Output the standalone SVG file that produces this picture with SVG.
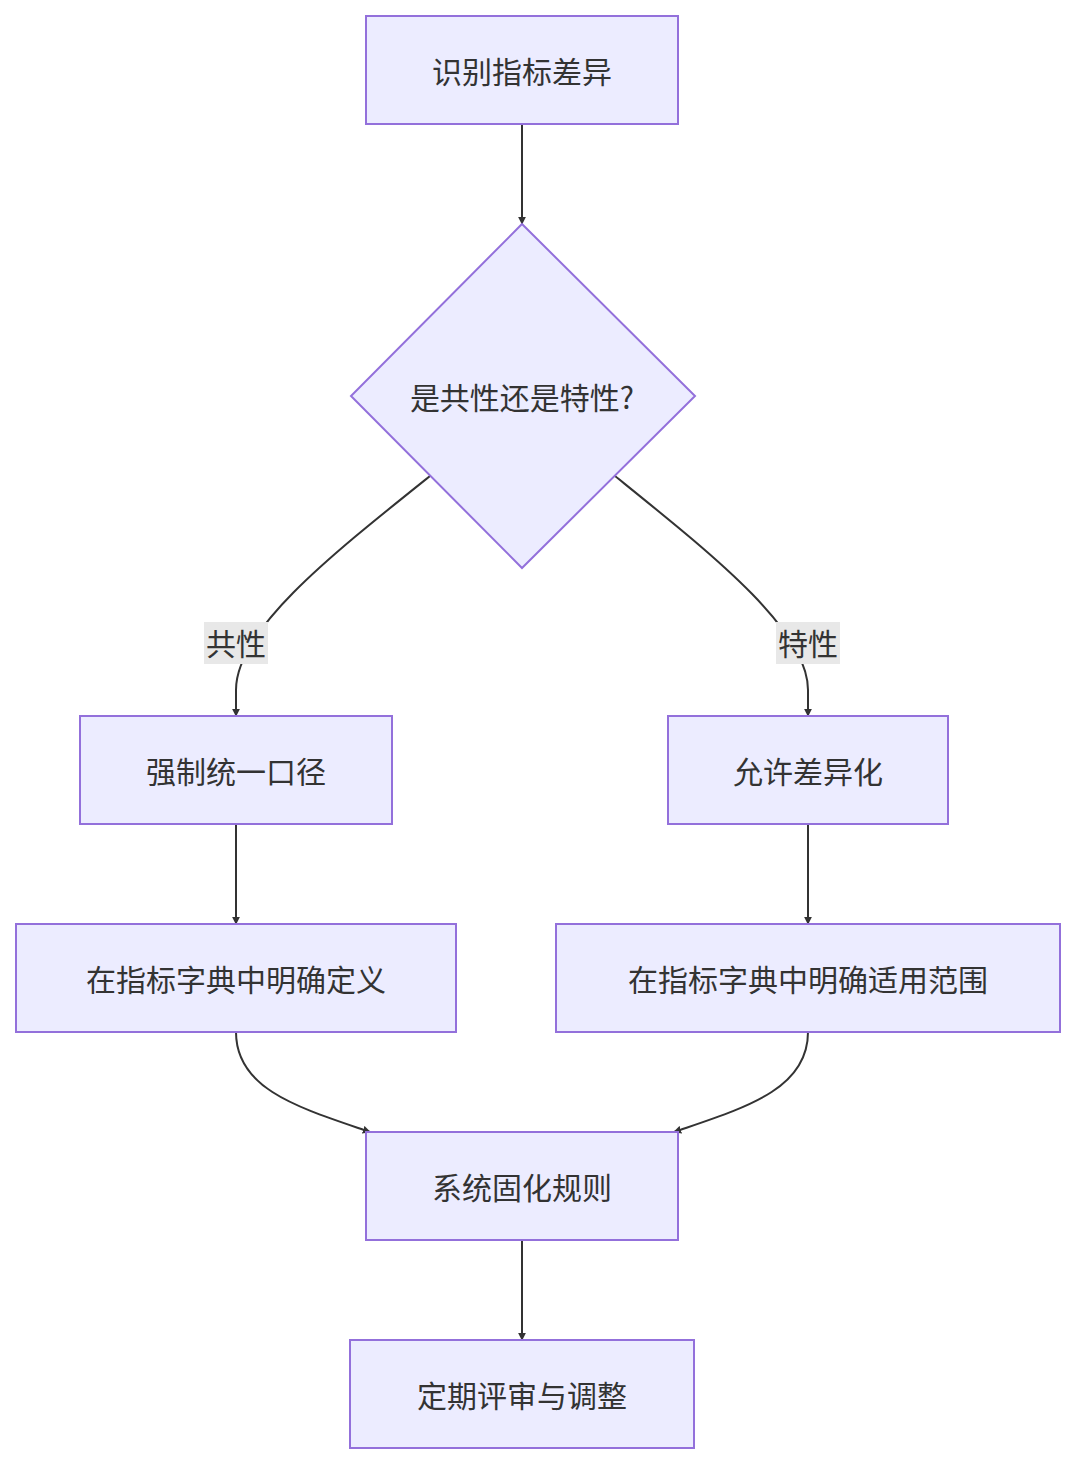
<svg xmlns="http://www.w3.org/2000/svg" width="1076" height="1463" viewBox="0 0 1076 1463">
<style>
.n{fill:#ECECFF;stroke:#9370DB;stroke-width:2}
.t{font-family:"Noto Sans CJK SC","Liberation Sans",sans-serif;font-size:30px;fill:#333;text-anchor:middle;dominant-baseline:central}
.e{fill:none;stroke:#333;stroke-width:2;marker-end:url(#ah)}
.lb{fill:#e8e8e8}
</style>
<defs><marker id="ah" viewBox="0 0 10 10" refX="9" refY="5" markerWidth="8" markerHeight="8" markerUnits="userSpaceOnUse" orient="auto"><path d="M0,0L10,5L0,10z" fill="#333"/></marker></defs>
<rect width="1076" height="1463" fill="#fff"/>
<g id="edges">
<path class="e" d="M522,124L522,224"/>
<path class="e" d="M430,476C330,556 236,630 236,690L236,716"/>
<path class="e" d="M615,476C714,556 808,630 808,690L808,716"/>
<path class="e" d="M236,824L236,924"/>
<path class="e" d="M808,824L808,924"/>
<path class="e" d="M236,1032C236,1090 300,1108 370,1132"/>
<path class="e" d="M808,1032C808,1090 744,1108 674,1132"/>
<path class="e" d="M522,1240L522,1340"/>
<rect class="lb" x="204" y="622" width="64" height="42"/><text class="t" x="236" y="642">共性</text>
<rect class="lb" x="776" y="622" width="64" height="42"/><text class="t" x="808" y="642">特性</text>
</g>
<g id="A"><rect class="n" x="366" y="16" width="312" height="108"/><text class="t" x="522" y="70">识别指标差异</text></g>
<g id="B"><polygon class="n" points="522,224 695,396 522,568 351,396"/><text class="t" x="522" y="396">是共性还是特性?</text></g>
<g id="C"><rect class="n" x="80" y="716" width="312" height="108"/><text class="t" x="236" y="770">强制统一口径</text></g>
<g id="D"><rect class="n" x="668" y="716" width="280" height="108"/><text class="t" x="808" y="770">允许差异化</text></g>
<g id="E"><rect class="n" x="16" y="924" width="440" height="108"/><text class="t" x="236" y="978">在指标字典中明确定义</text></g>
<g id="F"><rect class="n" x="556" y="924" width="504" height="108"/><text class="t" x="808" y="978">在指标字典中明确适用范围</text></g>
<g id="G"><rect class="n" x="366" y="1132" width="312" height="108"/><text class="t" x="522" y="1186">系统固化规则</text></g>
<g id="H"><rect class="n" x="350" y="1340" width="344" height="108"/><text class="t" x="522" y="1394">定期评审与调整</text></g>
</svg>
